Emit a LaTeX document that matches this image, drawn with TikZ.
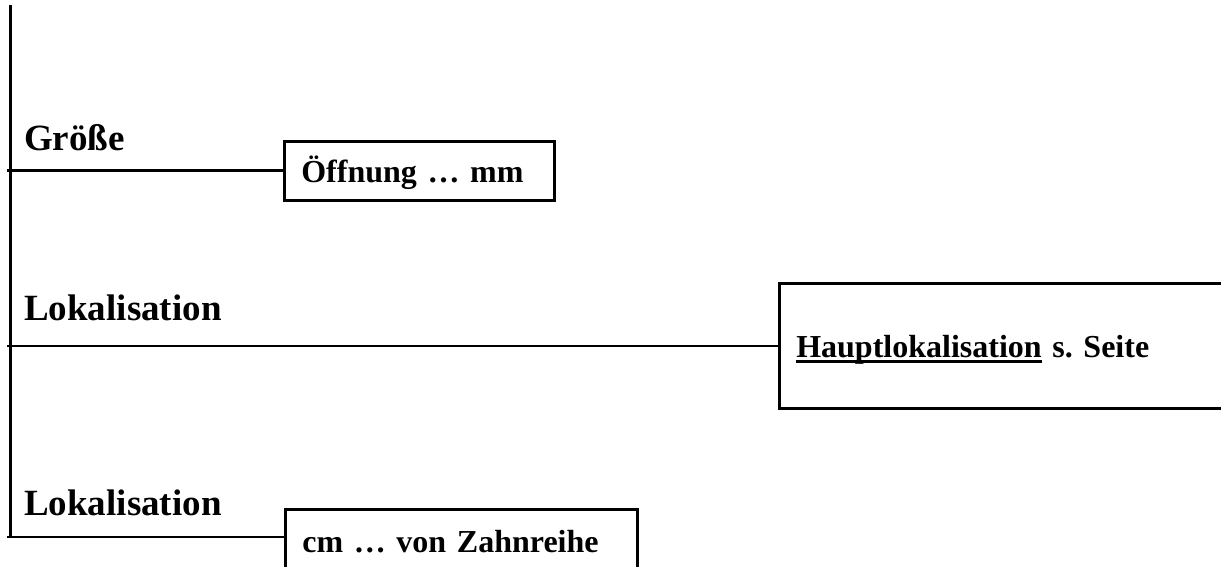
\documentclass[tikz,border=0pt]{standalone}
\usepackage{fontspec}
\setmainfont{Liberation Serif}
\newcommand\thickul[1]{\setbox0\hbox{#1}\rlap{\rule[-5pt]{\wd0}{2.8pt}}\box0\relax}
\begin{document}
\begin{tikzpicture}[x=1pt,y=-1pt,
  conn/.style={line width=2.6pt},
  lab/.style={font=\fontsize{37}{40}\selectfont\bfseries, inner sep=0pt, anchor=base west},
  box/.style={draw, line width=2.6pt, rectangle, anchor=north west, inner ysep=0pt,
    inner xsep=17pt, align=left, text height=24pt, text depth=0pt,
    font=\fontsize{32}{36}\selectfont\bfseries}]
\clip (0,0) rectangle (1221,566);
\fill[white] (0,0) rectangle (1221,566);
% spine
\coordinate (top) at (10.5,5);
\coordinate (bot) at (10.5,537);
\draw[conn] (top) -- (bot);
% labels
\node[lab] (l1) at (24,150) {Größe};
\node[lab] (l2) at (24,320) {Lokalisation};
\node[lab] (l3) at (24,515) {Lokalisation};
% boxes
\node[box, text width=236pt, minimum height=59pt] (b1) at (283,140) {Öffnung … mm};
\node[box, text width=450pt, minimum height=125pt] (b2) at (778,282) {\thickul{Hauptlokalisation} s.\ Seite};
\node[box, text width=318pt, minimum height=62pt] (b3) at (284,508) {cm … von Zahnreihe};
% branches
\coordinate (s1) at (7,170.5);
\coordinate (s2) at (7,346);
\coordinate (s3) at (7,537);
\draw[conn] (s1) -- (s1 -| b1.west);
\draw[conn] (s2) -- (s2 -| b2.west);
\draw[conn] (s3) -- (s3 -| b3.west);
\end{tikzpicture}
\end{document}
